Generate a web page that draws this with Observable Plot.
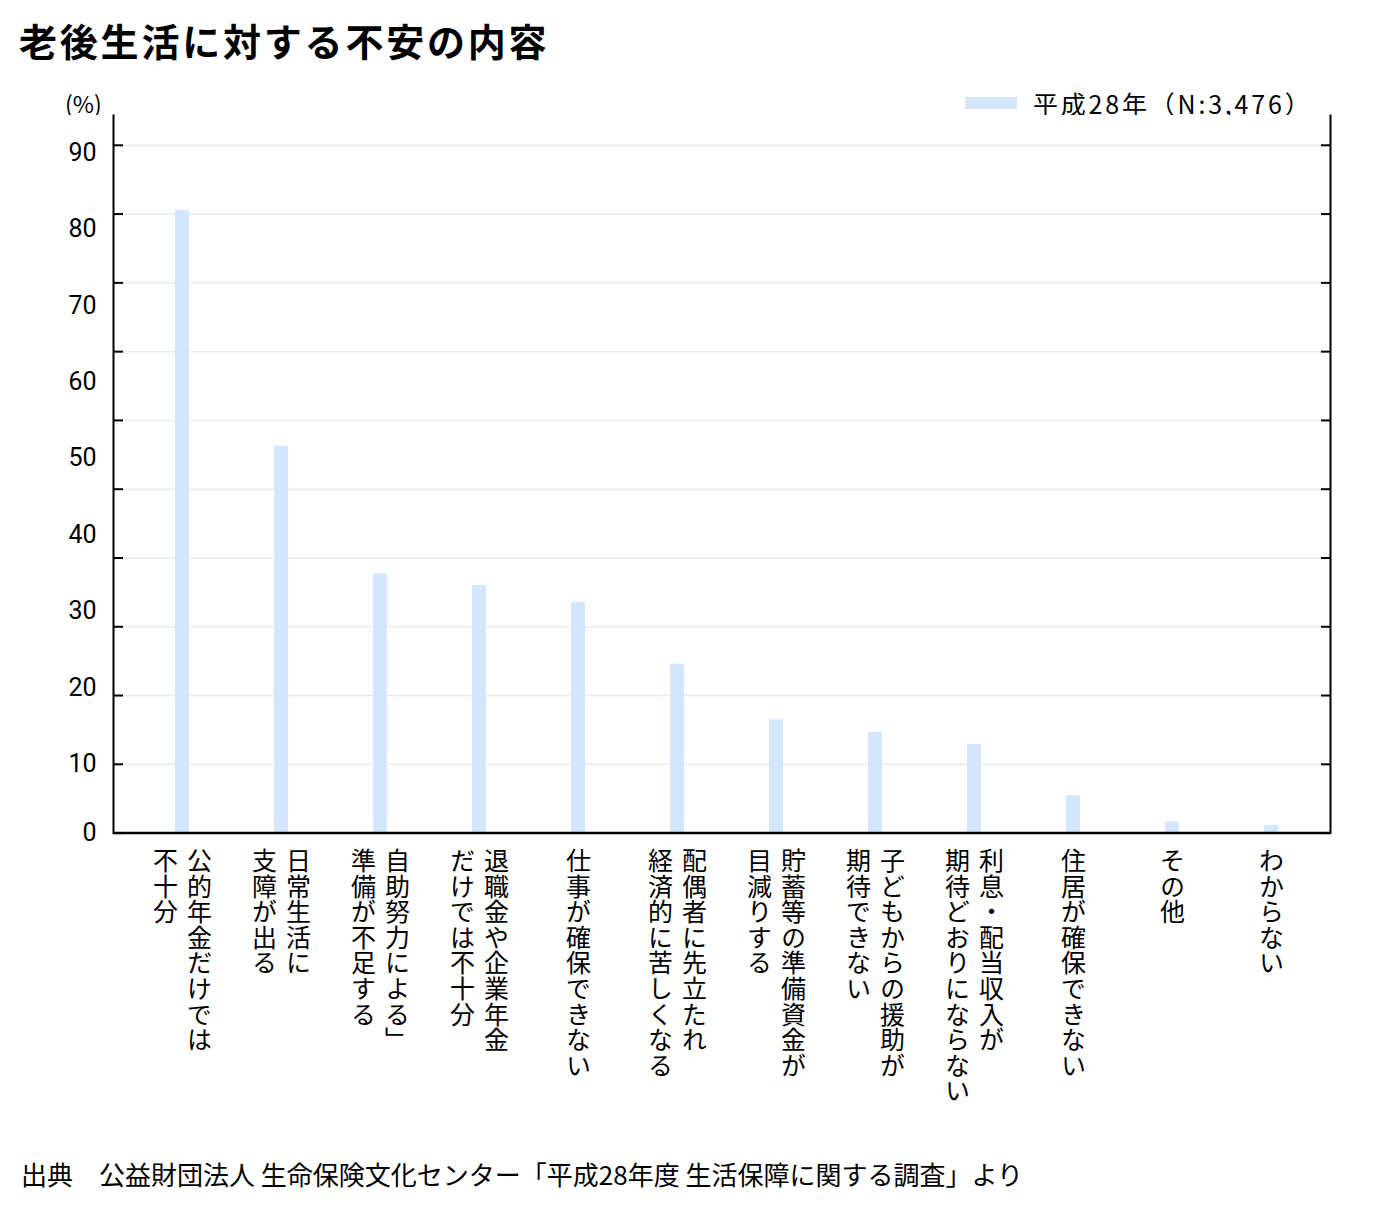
<!DOCTYPE html>
<html lang="ja">
<head>
<meta charset="utf-8">
<script src="https://cdn.jsdelivr.net/npm/d3@7"></script>
<script src="https://cdn.jsdelivr.net/npm/@observablehq/plot@0.6"></script>
<style>
  html, body { margin: 0; padding: 0; background: #fff; }
  body { width: 1395px; height: 1214px; position: relative; overflow: hidden;
         font-family: "Noto Sans CJK JP", "Noto Sans", sans-serif; color: #000; }
  #title { position: absolute; left: 19px; top: 21px; font-size: 38px; line-height: 38px;
           font-weight: bold; letter-spacing: 2.8px; white-space: nowrap; }
  #unit { position: absolute; left: 65px; top: 90px; font-size: 23px; line-height: 26px; white-space: nowrap; }
  #legend { position: absolute; left: 965px; top: 89px; height: 28px; display: flex; align-items: center; white-space: nowrap; }
  #legend .sw { width: 52px; height: 12px; background: #d4e6fc; margin-right: 16px; }
  #legend .lt { font-size: 25px; line-height: 28px; letter-spacing: 2.8px; }
  #chart { position: absolute; left: 0; top: 115px; }
  #caption { position: absolute; left: 21px; top: 1159px; font-size: 26px; line-height: 30px; white-space: nowrap; }
</style>
</head>
<body>
<div id="title">老後生活に対する不安の内容</div>
<div id="unit">(%)</div>
<div id="legend"><div class="sw"></div><div class="lt">平成28年（N:3,476）</div></div>
<div id="chart"></div>
<div id="caption">出典　公益財団法人 生命保険文化センター「平成28年度 生活保障に関する調査」より</div>
<script>
// ---- data ----
const labelLines = [
  ["公的年金だけでは", "不十分"],
  ["日常生活に", "支障が出る"],
  ["自助努力による」", "準備が不足する"],
  ["退職金や企業年金", "だけでは不十分"],
  ["仕事が確保できない"],
  ["配偶者に先立たれ", "経済的に苦しくなる"],
  ["貯蓄等の準備資金が", "目減りする"],
  ["子どもからの援助が", "期待できない"],
  ["利息・配当収入が", "期待どおりにならない"],
  ["住居が確保できない"],
  ["その他"],
  ["わからない"]
];
const values = [81.5, 50.6, 33.9, 32.4, 30.2, 22.1, 14.8, 13.2, 11.6, 4.9, 1.5, 1.0];
const yLabelValues = [0, 10, 20, 30, 40, 50, 60, 70, 80, 90];
const gridValues = [0, 9, 18, 27, 36, 45, 54, 63, 72, 81, 90];
const seriesName = "平成28年（N:3,476）";

// ---- build tables ----
const categories = labelLines.map(l => l.join(""));
const data = categories.map((c, i) => ({cat: c, value: values[i]}));
const lineRows = labelLines.flatMap((lines, i) =>
  lines.map((line, j) => ({cat: categories[i], line, j, n: lines.length})));
const singles = lineRows.filter(d => d.n === 1);
const firsts = lineRows.filter(d => d.n === 2 && d.j === 0);
const seconds = lineRows.filter(d => d.n === 2 && d.j === 1);

const labelFont = "'Noto Sans CJK JP', sans-serif";
const textOpts = (dx) => ({
  x: "cat", text: "line", frameAnchor: "bottom", dy: 15, dx,
  lineAnchor: "bottom", textAnchor: "start", fontSize: 25, fill: "#000",
  fontFamily: labelFont
});
const tickFont = "Roboto, 'Noto Sans', sans-serif";

const chart = Plot.plot({
  width: 1395,
  height: 1000,
  marginTop: 0,
  marginLeft: 113,
  marginRight: 65,
  marginBottom: 282.4,
  x: {domain: categories, axis: null, paddingInner: 0.859, paddingOuter: 0.564, align: 0.546},
  y: {domain: [0, 93.9], axis: null},
  style: {fontFamily: labelFont, background: "#fff", color: "#000", overflow: "visible"},
  marks: [
    Plot.gridY(gridValues, {stroke: "#ebebeb", strokeOpacity: 1, strokeWidth: 1.5}),
    Plot.barY(data, {x: "cat", y: "value", fill: "#d4e6fc"}),
    Plot.frame({anchor: "left", stroke: "#000", strokeWidth: 2}),
    Plot.frame({anchor: "right", stroke: "#000", strokeWidth: 2}),
    Plot.ruleY([0], {stroke: "#000", strokeWidth: 2.5}),
    Plot.axisY(gridValues, {anchor: "left", tickSize: -10, fill: "none", label: null, stroke: "#000", strokeWidth: 2}),
    Plot.axisY(gridValues, {anchor: "right", tickSize: -10, fill: "none", label: null, stroke: "#000", strokeWidth: 2}),
    Plot.axisY(yLabelValues.filter(v => v === 0), {anchor: "left", tickSize: 0, tickPadding: 17, label: null,
      fontSize: 25, fontFamily: tickFont, fill: "#000"}),
    Plot.axisY(yLabelValues.filter(v => v > 0), {anchor: "left", tickSize: 0, tickPadding: 17, label: null,
      fontSize: 25, fontFamily: tickFont, fill: "#000", dy: 7.5}),
    Plot.text(singles, textOpts(0)),
    Plot.text(firsts, textOpts(17)),
    Plot.text(seconds, textOpts(-17))
  ]
});

chart.querySelectorAll('g[aria-label="text"] text').forEach(t => {
  t.style.writingMode = "vertical-rl";
  t.style.textOrientation = "mixed";
  t.style.letterSpacing = "0.6px";
});
document.getElementById("chart").appendChild(chart);
</script>
</body>
</html>
